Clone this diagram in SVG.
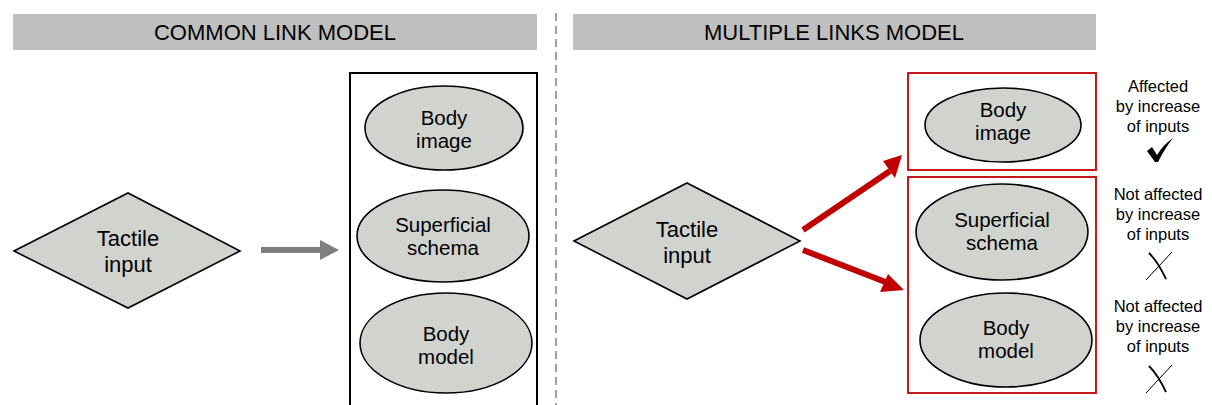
<svg xmlns="http://www.w3.org/2000/svg" width="1212" height="405" viewBox="0 0 1212 405">
<style>
text{font-family:"Liberation Sans",Arial,sans-serif;fill:#000;text-anchor:middle}
.hdr{font-size:22px}
.dia{font-size:22px}
.lbl{font-size:20.5px}
.side{font-size:16.5px}
.bar{fill:#bfbfbf}
.shape{fill:#d0d3ce;stroke:#000;stroke-width:1.6}
.redbox{fill:none;stroke:#c00000;stroke-width:1.8}
.redline{stroke:#c00000;stroke-width:6;fill:none}
</style>
<rect width="1212" height="405" fill="#fff"/>
<g id="header-left">
<rect class="bar" x="13" y="14" width="524" height="36"/>
<text class="hdr" x="275" y="40">COMMON LINK MODEL</text>
</g>
<g id="header-right">
<rect class="bar" x="573" y="14" width="523" height="36"/>
<text class="hdr" x="834" y="40">MULTIPLE LINKS MODEL</text>
</g>
<line x1="556" y1="13" x2="556" y2="405" stroke="#808080" stroke-width="1.5" stroke-dasharray="8,5"/>
<g id="left-input">
<polygon class="shape" points="14,251 128,193 240,251 128,308"/>
<text class="dia" x="128" y="246">Tactile</text>
<text class="dia" x="128" y="272">input</text>
</g>
<g id="left-box">
<rect x="350" y="73" width="187" height="340" fill="none" stroke="#000" stroke-width="2"/>
</g>
<g id="left-body-image">
<ellipse class="shape" cx="444" cy="128" rx="79" ry="42"/>
<text class="lbl" x="444" y="125">Body</text>
<text class="lbl" x="444" y="148">image</text>
</g>
<g id="left-superficial">
<ellipse class="shape" cx="443" cy="236" rx="86" ry="46"/>
<text class="lbl" x="443" y="232">Superficial</text>
<text class="lbl" x="443" y="255">schema</text>
</g>
<g id="left-body-model">
<ellipse class="shape" cx="446" cy="343" rx="86" ry="50"/>
<text class="lbl" x="446" y="341">Body</text>
<text class="lbl" x="446" y="364">model</text>
</g>
<g id="right-input">
<polygon class="shape" points="574,241 687,183 800,241 687,299"/>
<text class="dia" x="687" y="237">Tactile</text>
<text class="dia" x="687" y="263">input</text>
</g>
<g id="right-box-image">
<rect class="redbox" x="908" y="73" width="188" height="97"/>
</g>
<g id="right-body-image">
<ellipse class="shape" cx="1003" cy="125" rx="78" ry="37"/>
<text class="lbl" x="1003" y="117">Body</text>
<text class="lbl" x="1003" y="140">image</text>
</g>
<g id="right-box-others">
<rect class="redbox" x="908" y="177" width="188" height="216"/>
</g>
<g id="right-superficial">
<ellipse class="shape" cx="1002" cy="232" rx="86" ry="48"/>
<text class="lbl" x="1002" y="227">Superficial</text>
<text class="lbl" x="1002" y="250">schema</text>
</g>
<g id="right-body-model">
<ellipse class="shape" cx="1006" cy="340" rx="86" ry="47"/>
<text class="lbl" x="1006" y="335">Body</text>
<text class="lbl" x="1006" y="358">model</text>
</g>
<g id="note-image">
<text class="side" x="1158" y="92">Affected</text>
<text class="side" x="1158" y="112">by increase</text>
<text class="side" x="1158" y="132">of inputs</text>
<path d="M1147,151 L1152,147 L1157,155 Q1163,145 1173,138 Q1165,148 1158,162 L1155,162 Z" fill="#000"/>
</g>
<g id="note-superficial">
<text class="side" x="1158" y="200">Not affected</text>
<text class="side" x="1158" y="220">by increase</text>
<text class="side" x="1158" y="240">of inputs</text>
<path d="M1149,253 Q1158,262 1166,279" stroke="#000" stroke-width="1.8" fill="none"/>
<path d="M1172,252 L1146,280" stroke="#000" stroke-width="1" fill="none"/>
</g>
<g id="note-model">
<text class="side" x="1158" y="312">Not affected</text>
<text class="side" x="1158" y="332">by increase</text>
<text class="side" x="1158" y="352">of inputs</text>
<path d="M1149,366 Q1158,375 1166,392" stroke="#000" stroke-width="1.8" fill="none"/>
<path d="M1172,365 L1146,393" stroke="#000" stroke-width="1" fill="none"/>
</g>
<g id="connectors">
<path d="M261,250 L321,250" stroke="#7f7f7f" stroke-width="6" fill="none"/>
<polygon points="320,240 339,250 320,260" fill="#7f7f7f"/>
<line class="redline" x1="803" y1="230" x2="890" y2="171"/>
<polygon points="902,155 895,178 883,161" fill="#c00000"/>
<line class="redline" x1="803" y1="250" x2="888" y2="283"/>
<polygon points="904,290 880,292 888,274" fill="#c00000"/>
</g>
</svg>
